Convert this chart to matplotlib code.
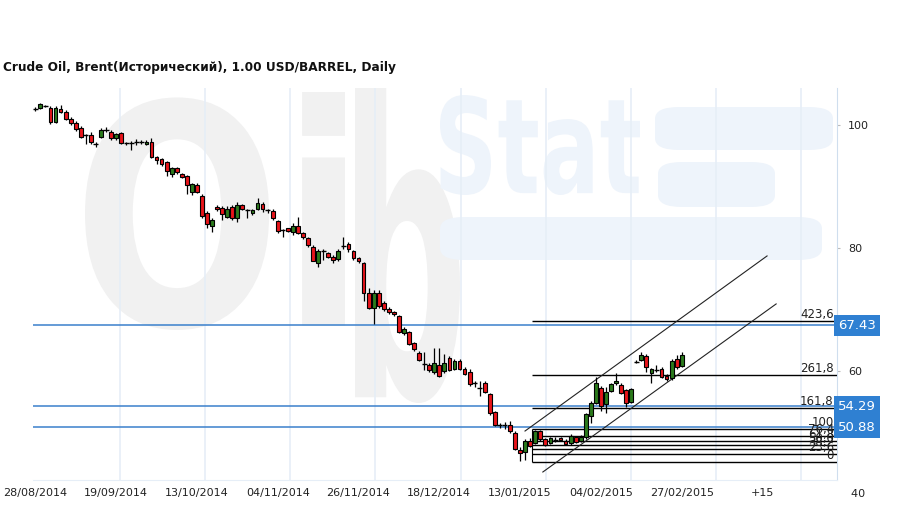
import matplotlib
matplotlib.use('Agg')
import matplotlib.pyplot as plt
import matplotlib.transforms as mtransforms
from matplotlib.textpath import TextPath
from matplotlib.patches import PathPatch, FancyBboxPatch
from matplotlib.font_manager import FontProperties
import numpy as np

# Brent daily candles, 28/08/2014 .. 27/02/2015 (bar index 0..128)
opens = [102.6, 102.7, 103.0, 102.7, 100.5, 102.6, 102.1, 100.9, 100.3, 99.5,
         98.3, 98.4, 96.9, 98.1, 99.2, 98.8, 97.8, 98.7, 97.0, 97.0,
         97.2, 97.2, 96.9, 97.3, 94.85, 94.4, 93.9, 92.0, 92.96, 92.0,
         91.7, 89.15, 90.2, 88.45, 85.6, 83.5, 86.7, 86.45, 85.1, 86.7,
         84.8, 87.0, 86.1, 85.65, 86.3, 87.1, 86.1, 86.0, 84.4, 82.9,
         83.2, 82.65, 83.5, 82.4, 81.6, 80.2, 77.6, 79.55, 79.1, 78.6,
         78.2, 80.3, 80.65, 79.5, 78.3, 77.5, 72.6, 70.2, 72.6, 71.0,
         70.15, 69.6, 68.95, 66.1, 66.3, 64.5, 63.0, 61.1, 61.0, 59.9,
         61.0, 60.0, 62.06, 60.3, 61.7, 60.3, 59.9, 58.0, 57.3, 58.0,
         56.3, 53.3, 51.3, 51.2, 51.3, 49.97, 47.15, 46.8, 48.7, 48.35,
         50.2, 48.9, 48.3, 48.8, 49.1, 48.6, 48.25, 49.2, 48.6, 49.2,
         52.7, 54.85, 57.2, 54.7, 56.8, 58.0, 57.8, 56.9, 55.0, 61.5,
         61.8, 62.4, 59.6, 60.1, 60.3, 59.2, 58.8, 61.9, 60.8]
highs = [102.9, 103.6, 103.2, 103.0, 103.1, 103.3, 102.4, 101.3, 100.6, 99.9,
         98.5, 98.8, 97.3, 99.5, 99.7, 99.1, 98.7, 98.9, 97.2, 97.4,
         97.7, 97.6, 97.5, 97.9, 95.0, 94.6, 94.1, 93.1, 93.2, 92.2,
         91.9, 90.6, 90.5, 88.7, 86.0, 84.8, 87.0, 86.9, 86.8, 87.0,
         87.4, 87.2, 86.3, 86.4, 88.1, 87.4, 86.3, 86.3, 84.6, 83.0,
         83.3, 84.1, 85.1, 82.6, 81.8, 80.5, 79.8, 79.8, 79.3, 78.9,
         79.8, 81.8, 81.0, 79.7, 78.5, 77.7, 73.45, 73.2, 73.1, 71.3,
         70.4, 69.8, 69.1, 67.1, 66.5, 64.7, 63.2, 63.1, 61.3, 63.7,
         63.8, 62.8, 62.5, 62.0, 61.9, 60.6, 60.3, 58.4, 58.3, 58.4,
         56.5, 53.5, 51.6, 51.7, 51.8, 50.2, 47.6, 48.9, 49.1, 50.4,
         50.4, 49.1, 49.3, 49.2, 49.3, 49.0, 49.7, 49.4, 49.6, 53.2,
         55.2, 59.0, 57.6, 57.4, 58.1, 59.6, 58.1, 57.1, 57.3, 61.8,
         63.1, 62.7, 60.5, 61.0, 60.6, 59.5, 62.0, 62.6, 63.1]
lows = [102.3, 102.6, 102.9, 100.2, 100.3, 102.0, 100.8, 100.0, 99.0, 97.8,
        96.9, 96.9, 96.4, 97.8, 98.9, 97.6, 97.5, 96.9, 96.8, 95.9,
        96.8, 96.9, 96.7, 94.6, 93.6, 93.4, 91.75, 91.5, 92.0, 91.3,
        88.7, 88.6, 88.9, 84.8, 83.2, 82.65, 86.0, 84.55, 84.9, 84.5,
        84.2, 86.1, 84.9, 85.4, 86.1, 85.9, 85.7, 84.5, 82.4, 81.75,
        82.6, 82.1, 82.2, 81.4, 80.2, 77.8, 76.9, 78.0, 78.3, 77.5,
        77.9, 79.9, 79.4, 78.0, 77.5, 71.4, 70.0, 67.6, 70.3, 69.8,
        69.3, 68.9, 66.2, 65.8, 64.2, 63.2, 61.6, 60.2, 59.8, 59.5,
        59.0, 59.7, 60.0, 60.1, 60.1, 59.3, 57.6, 57.4, 55.9, 56.4,
        52.9, 51.0, 50.7, 50.6, 50.0, 47.2, 45.4, 45.6, 47.6, 48.1,
        48.7, 47.8, 48.1, 48.4, 48.6, 47.9, 48.0, 48.3, 48.4, 49.0,
        51.5, 54.6, 53.55, 53.2, 56.6, 57.7, 56.3, 54.1, 54.8, 61.3,
        61.6, 59.9, 58.0, 59.8, 58.8, 58.4, 58.5, 60.4, 60.6]
closes = [102.6, 103.4, 103.0, 100.4, 102.8, 102.1, 100.9, 100.3, 99.4, 98.1,
          98.3, 97.2, 96.9, 99.2, 99.2, 97.8, 98.5, 97.0, 97.0, 97.0,
          97.2, 97.2, 97.3, 94.75, 94.3, 93.6, 92.5, 92.96, 92.3, 91.5,
          90.2, 90.35, 89.15, 85.2, 83.85, 84.55, 86.3, 85.5, 86.35, 84.8,
          87.0, 86.3, 86.1, 86.2, 87.26, 86.3, 86.1, 84.8, 82.8, 82.9,
          82.8, 83.6, 82.4, 81.7, 80.4, 77.9, 79.55, 79.55, 78.6, 78.05,
          79.5, 80.3, 79.8, 78.3, 77.8, 72.6, 70.2, 72.6, 70.5, 70.0,
          69.65, 69.2, 66.35, 66.9, 64.4, 63.6, 61.8, 61.1, 60.2, 61.25,
          59.25, 61.35, 60.2, 61.7, 60.3, 59.5, 57.9, 58.0, 57.3, 56.65,
          53.1, 51.2, 51.3, 51.2, 50.2, 47.4, 46.6, 48.7, 47.8, 50.2,
          48.9, 47.97, 49.1, 48.8, 48.8, 48.2, 49.5, 48.5, 49.35, 53.0,
          54.8, 58.0, 54.3, 56.6, 57.9, 58.4, 56.5, 54.75, 57.0, 61.5,
          62.6, 60.6, 60.3, 60.1, 59.1, 58.7, 61.7, 60.6, 62.6]

date_labels = ['28/08/2014', '19/09/2014', '13/10/2014', '04/11/2014', '26/11/2014',
               '18/12/2014', '13/01/2015', '04/02/2015', '27/02/2015', '+15']
label_step = 16          # bars between date labels
grid_step = 16.84        # bars between vertical grid lines

level_lines = [67.43, 54.29, 50.88]
fib_low, fib_high = 45.25, 50.65
fib_start = 98.35
fib_pcts = [0, 23.6, 38.2, 50.0, 61.8, 76.4, 100, 161.8, 261.8, 423.6]
fib_names = ['0', '23,6', '38,2', '50,0', '61,8', '76,4', '100', '161,8', '261,8', '423,6']

channel_upper = ([96.97, 144.9], [50.24, 78.7])
channel_lower = ([100.5, 146.7], [43.58, 70.9])

y_ticks = [40, 60, 80, 100]
xmin, xmax = -0.46, 158.75
ymin, ymax = 42.28, 106.0

RED = '#e8151b'
GREEN = '#2b7a1c'
BLUE_LINE = '#3a80cc'
BLUE_BOX = '#2f80d2'

fig = plt.figure(figsize=(9.09, 5.09), dpi=100)
ax = fig.add_axes([33 / 909, 29 / 509, 804 / 909, 392 / 509])

# watermark (drawn in axes fraction space)
def px2ax(px, py):
    return (px - 33) / 804, (480 - py) / 392

def stamp(text, x0, y0, x1, y1, color, weight='bold'):
    tp = TextPath((0, 0), text, size=1, prop=FontProperties(family='DejaVu Sans', weight=weight))
    ext = tp.get_extents()
    ax0, ay0 = px2ax(x0, y1)
    ax1, ay1 = px2ax(x1, y0)
    tr = mtransforms.Affine2D().translate(-ext.x0, -ext.y0).scale(
        (ax1 - ax0) / ext.width, (ay1 - ay0) / ext.height).translate(ax0, ay0)
    ax.add_patch(PathPatch(tr.transform_path(tp), transform=ax.transAxes,
                           fc=color, ec='none', zorder=0))

stamp('Oi', 85, 92, 345, 330, '#f1f1f1')
stamp('b', 355, 88, 460, 403, '#f1f1f1')
stamp('Stat', 440, 95, 640, 195, '#eef4fb')
for (x0, y0, x1, y1) in [(655, 107, 833, 150), (658, 162, 775, 207), (440, 217, 822, 260)]:
    a0, b0 = px2ax(x0, y1)
    a1, b1 = px2ax(x1, y0)
    ax.add_patch(FancyBboxPatch((a0, b0), a1 - a0, b1 - b0,
                                boxstyle='round,pad=0,rounding_size=0.03',
                                transform=ax.transAxes, fc='#eef4fb', ec='none', zorder=0))

# grid
ax.set_xticks(np.arange(0, len(date_labels)) * label_step)
ax.set_xticklabels(date_labels)
ax.set_xticks(np.arange(0, xmax, grid_step), minor=True)
ax.grid(which='minor', axis='x', color='#e6eef7', lw=1.2, zorder=0.5)
ax.tick_params(axis='x', which='major', length=0, pad=6, labelsize=8, labelcolor='#222222')
ax.tick_params(axis='x', which='minor', length=0)

ax.yaxis.tick_right()
ax.set_yticks(y_ticks)
ax.tick_params(axis='y', length=2, pad=6, labelsize=8, labelcolor='#222222', color='#bbbbbb')

# limits after the ticks so that set_yticks does not widen them
ax.set_xlim(xmin, xmax)
ax.set_ylim(ymin, ymax)

ytr = ax.get_yaxis_transform()
ax.text(1.0, y_ticks[0], '    ' + str(y_ticks[0]), transform=ytr, ha='left', va='center',
        fontsize=8, color='#222222', clip_on=False)

for s in ['left', 'top']:
    ax.spines[s].set_visible(False)
ax.spines['right'].set_color('#cfdeee')
ax.spines['bottom'].set_color('#e6eef7')

# horizontal levels
for v in level_lines:
    ax.axhline(v, color=BLUE_LINE, lw=1.1, zorder=2)
    ax.text(1.0015, v, '{:.2f}'.format(v), transform=ytr, ha='left', va='center',
            color='white', fontsize=9.5, zorder=5, clip_on=False,
            bbox=dict(boxstyle='square,pad=0.3', fc=BLUE_BOX, ec='none'))

# fibonacci levels
fib_vals = [fib_low + p / 100 * (fib_high - fib_low) for p in fib_pcts]
ax.hlines(fib_vals, fib_start, xmax, color='black', lw=1.0, zorder=3)
for v, name in zip(fib_vals, fib_names):
    ax.text(0.996, v, name, transform=ytr, ha='right', va='bottom', fontsize=8.5,
            color='#222222', zorder=4)
ax.vlines(fib_start, fib_vals[0], fib_vals[6], color='black', lw=0.8, zorder=3)

# trend channel
ax.plot(*channel_upper, color='#222222', lw=0.8, zorder=3)
ax.plot(*channel_lower, color='#222222', lw=0.8, zorder=3)

# candles
idx = np.arange(len(closes))
ax.vlines(idx, lows, highs, color='black', lw=0.9, zorder=6)
for i in idx:
    o, c = opens[i], closes[i]
    if abs(c - o) < 0.08:
        ax.hlines(c, i - 0.5, i + 0.5, color='black', lw=1.0, zorder=7)
    else:
        ax.bar(i, abs(c - o), bottom=min(o, c), width=0.75,
               color=GREEN if c > o else RED, edgecolor='black', lw=0.8, zorder=7)

ax.set_xlim(xmin, xmax)
ax.set_ylim(ymin, ymax)

fig.text(3 / 909, 1 - 68 / 509, 'Crude Oil, Brent(Исторический), 1.00 USD/BARREL, Daily',
         fontsize=8.7, fontweight='bold', va='center', ha='left', color='#111111')

fig.savefig('out.png', dpi=100)
